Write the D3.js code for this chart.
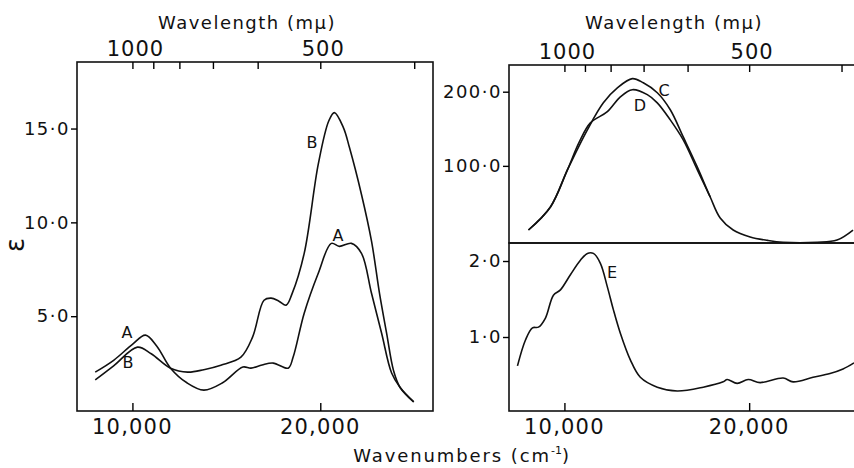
<!DOCTYPE html>
<html>
<head>
<meta charset="utf-8">
<script src="https://cdn.jsdelivr.net/npm/d3@7"></script>
<style>
  body { margin: 0; background: #fff; }
  svg { display: block; }
  text { font-family: "DejaVu Sans", sans-serif; fill: #111; }
</style>
</head>
<body>
<div id="chart"></div>
<script>
// wavenumber (cm-1) for every curve point
var waveA = [8020, 9000, 10000, 10695, 11300, 12030, 12900, 13800, 14800, 15880, 16310, 16900, 17490, 18290, 18556, 19144, 19893, 20588, 21016, 21658, 22193, 22727, 23262, 23797, 24250, 24973];
var epsA  = [2.02, 2.65, 3.5, 3.99, 3.4, 2.23, 1.45, 1.06, 1.45, 2.29, 2.23, 2.4, 2.5, 2.23, 2.82, 5.16, 7.29, 8.88, 8.72, 8.88, 8.35, 6.22, 4.1, 1.97, 1.2, 0.43];

var waveB = [8020, 9000, 10267, 11000, 12030, 12941, 13800, 14706, 15775, 16400, 17005, 17380, 17800, 18182, 18500, 19144, 19893, 20450, 20750, 21230, 21550, 22190, 22727, 23155, 23530, 23900, 24250, 24973];
var epsB  = [1.6, 2.35, 3.35, 3.0, 2.23, 2.02, 2.15, 2.39, 2.82, 3.9, 5.85, 5.96, 5.8, 5.59, 6.2, 8.35, 13.1, 15.4, 15.85, 15.05, 14.0, 11.5, 9.0, 6.2, 4.1, 2.1, 1.2, 0.43];

var waveC = [8054, 9243, 10162, 11243, 12108, 12865, 13676, 14270, 15027, 15730, 16432, 17189, 17892, 18432, 19135, 20054, 21000, 21838, 23676, 24757, 25622];
var epsC  = [13.5, 44.6, 94.6, 148.6, 185, 205, 217.6, 212, 198.6, 175.7, 139, 98.6, 58, 29.7, 13.5, 4.1, -0.5, -3, -3, 0, 13.5];

var waveD = [8054, 9243, 10162, 10800, 11405, 12324, 13027, 13676, 14486, 15027, 15730, 16432, 17189, 17892];
var epsD  = [13.5, 44.6, 94.6, 132, 158, 173, 193, 202.7, 196, 185, 162, 135, 95, 58];

var waveE = [7459, 7892, 8270, 8595, 8973, 9405, 9784, 10324, 10865, 11243, 11568, 11946, 12324, 12649, 13027, 13568, 14108, 15027, 16108, 17514, 18595, 18811, 19351, 19946, 20595, 21838, 22378, 23459, 24378, 25081, 25676];
var epsE  = [0.62, 0.96, 1.12, 1.13, 1.25, 1.55, 1.62, 1.82, 2.01, 2.1, 2.1, 1.97, 1.66, 1.36, 1.05, 0.70, 0.47, 0.34, 0.29, 0.34, 0.41, 0.44, 0.39, 0.44, 0.40, 0.46, 0.41, 0.47, 0.52, 0.58, 0.66];

var wavenumberTicks = [10000, 20000];
var wavelengthTicks = [1000, 900, 800, 700, 600, 500, 400];
var wavelengthLabels = [1000, 500];
var leftYTicks = [5, 10, 15];
var upperYTicks = [100, 200];
var lowerYTicks = [1, 2];

var svg = d3.select("#chart").append("svg")
    .attr("width", 854)
    .attr("height", 468);

var pair = function (w, e) { return w.map(function (d, i) { return [d, e[i]]; }); };
var fmt1 = function (d) { return d.toFixed(1).replace(".", "\u00b7"); };
var fmtK = function (d) { return d3.format(",")(d); };

function drawCurve(g, x, y, data) {
    var line = d3.line()
        .x(function (d) { return x(d[0]); })
        .y(function (d) { return y(d[1]); })
        .curve(d3.curveCatmullRom.alpha(0.5));
    g.append("path")
        .attr("d", line(data))
        .attr("fill", "none")
        .attr("stroke", "#111")
        .attr("stroke-width", 1.6);
}

function label(g, px, py, t, size, spacing) {
    g.append("text")
        .attr("x", px).attr("y", py)
        .attr("font-size", size || 16)
        .attr("letter-spacing", spacing || 0)
        .attr("text-anchor", "middle")
        .text(t);
}

// top wavelength axis, drawn on the wavenumber scale
function topAxis(g, x, top) {
    g.append("g")
        .attr("transform", "translate(0," + top + ")")
        .call(d3.axisBottom(x).tickValues(wavelengthTicks.map(function (d) { return 1e7 / d; })).tickSize(7).tickFormat(""))
        .call(function (a) { a.select(".domain").remove(); a.selectAll("line").attr("stroke-width", 1.4); });
    wavelengthLabels.forEach(function (l) {
        label(g, x(1e7 / l) + 3, top - 6, l, 21, 1);
    });
}

function bottomAxis(g, x, bottom) {
    var a = g.append("g")
        .attr("transform", "translate(0," + bottom + ")")
        .call(d3.axisTop(x).tickValues(wavenumberTicks).tickSize(8).tickFormat(""));
    a.select(".domain").remove();
    a.selectAll("line").attr("stroke-width", 1.4);
    wavenumberTicks.forEach(function (t) {
        label(g, x(t), bottom + 23, fmtK(t), 21, 1.2);
    });
}

function leftAxis(g, y, left, ticks, f) {
    var a = g.append("g")
        .attr("transform", "translate(" + left + ",0)")
        .call(d3.axisLeft(y).tickValues(ticks).tickSize(6).tickFormat(f).tickPadding(1));
    a.select(".domain").remove();
    a.selectAll("line").attr("stroke-width", 1.4);
    a.selectAll("text").attr("font-size", 18).attr("letter-spacing", 1.5)
        .attr("font-family", "DejaVu Sans").attr("fill", "#111");
}

function box(g, x0, y0, x1, y1) {
    g.append("rect")
        .attr("x", x0).attr("y", y0)
        .attr("width", x1 - x0).attr("height", y1 - y0)
        .attr("fill", "none").attr("stroke", "#111").attr("stroke-width", 1.6);
}

// ---- left panel
var xL = d3.scaleLinear().domain([7050, 26000]).range([77, 433]);
var yL = d3.scaleLinear().domain([0, 18.6]).range([410, 61]);
var gL = svg.append("g");
box(gL, 77, 62, 433, 411);
topAxis(gL, xL, 62);
bottomAxis(gL, xL, 411);
leftAxis(gL, yL, 77, leftYTicks, fmt1);
drawCurve(gL, xL, yL, pair(waveA, epsA));
drawCurve(gL, xL, yL, pair(waveB, epsB));
label(gL, 127, 338, "A", 16);
label(gL, 128, 368, "B", 16);
label(gL, 312, 148, "B", 16);
label(gL, 338, 241, "A", 16);
label(gL, 247, 29, "Wavelength  (m\u03bc)", 18, 1.5);
svg.append("text")
    .attr("transform", "translate(24,245) rotate(-90)")
    .attr("font-size", 26)
    .attr("text-anchor", "middle")
    .text("\u03b5");

// ---- right panels
var xR = d3.scaleLinear().domain([7000, 26000]).range([509, 860]);
var yU = d3.scaleLinear().domain([-4, 236]).range([243, 65]);
var yE = d3.scaleLinear().domain([0, 2.237]).range([413, 243]);
var gR = svg.append("g");
box(gR, 509, 65, 870, 243);
box(gR, 509, 243, 870, 411);
topAxis(gR, xR, 65);
bottomAxis(gR, xR, 411);
leftAxis(gR, yU, 509, upperYTicks, fmt1);
leftAxis(gR, yE, 509, lowerYTicks, fmt1);
drawCurve(gR, xR, yU, pair(waveC, epsC));
drawCurve(gR, xR, yU, pair(waveD, epsD));
drawCurve(gR, xR, yE, pair(waveE, epsE));
label(gR, 664, 96, "C", 16);
label(gR, 640, 111, "D", 16);
label(gR, 612, 278, "E", 16);
label(gR, 674, 29, "Wavelength  (m\u03bc)", 18, 1.5);

// shared x title
var t = svg.append("text")
    .attr("x", 462).attr("y", 462)
    .attr("font-size", 18)
    .attr("letter-spacing", 1.9)
    .attr("text-anchor", "middle")
    .text("Wavenumbers  (cm");
t.append("tspan").attr("dy", -8).attr("font-size", 11).attr("letter-spacing", 0).text("-1");
t.append("tspan").attr("dy", 8).text(")");
</script>
</body>
</html>
